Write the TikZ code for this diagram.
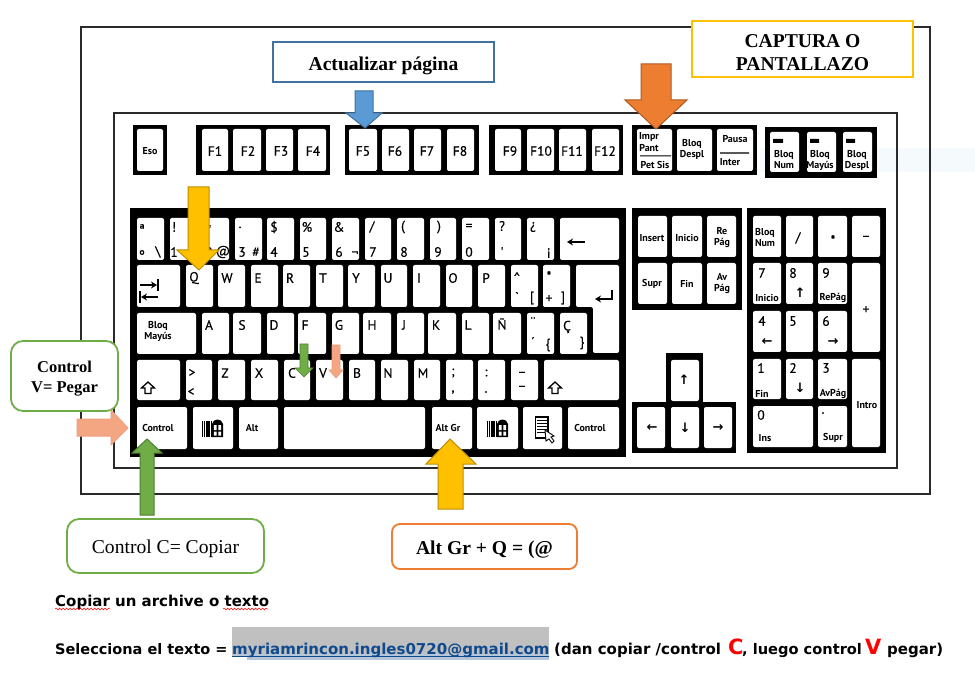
\documentclass[tikz,border=0pt]{standalone}
\usepackage{fontspec}
\setmainfont{Liberation Serif}
\newfontfamily\ptf{PT Sans}
\newfontfamily\ptk[FakeBold=0.4]{PT Sans}
\newfontfamily\djv{DejaVu Sans}
\usetikzlibrary{decorations.pathmorphing,arrows.meta}
\definecolor{frameC}{HTML}{2A2A2A}
\definecolor{bluef}{HTML}{5B9BD5}\definecolor{blued}{HTML}{41719C}
\definecolor{orgf}{HTML}{ED7D31}\definecolor{orgd}{HTML}{AE5A21}
\definecolor{goldf}{HTML}{FFC000}\definecolor{goldd}{HTML}{BC8C00}
\definecolor{grnf}{HTML}{70AD47}\definecolor{grnd}{HTML}{507E32}
\definecolor{peach}{HTML}{F4A582}\definecolor{peachd}{HTML}{F0A080}
\definecolor{linkC}{HTML}{0F4A8F}\definecolor{hlgray}{HTML}{C0C0C0}
\definecolor{hlblue}{HTML}{B4C6D8}\definecolor{wband}{HTML}{F5FAFD}
\newcounter{lb}
\tikzset{
  kl/.style={inner sep=0pt,align=center,font=\ptk\fontsize{13.5}{13.5}\selectfont},
  ks/.style={inner sep=0pt,align=center,font=\ptf\bfseries\fontsize{10}{11}\selectfont},
  ka/.style={inner sep=0pt,font=\djv\bfseries\fontsize{13}{13}\selectfont},
  frameL/.style={draw=frameC,line width=1.3pt},
  blockA/.style={line width=1pt,line join=miter},
  sq/.style={rounded corners=12pt,fill=white,line width=1.8pt},
  bt/.style={inner sep=0pt,anchor=base west,font=\djv\bfseries\fontsize{15}{15}\selectfont},
  keyarrow/.style={black,line width=1.6pt,-{Stealth[length=6pt,width=7pt]}},
  wavy/.style={draw=red,line width=.5pt,decorate,decoration={snake,amplitude=.9pt,segment length=3.5pt}}
}
\newcommand{\gp}[4]{\fill[black] (#1,#2) rectangle (#3,#4);}
\newcommand{\kk}[4]{\fill[white,rounded corners=2pt] (#1,#2) rectangle (#3,#4);}
\newcommand{\lab}[3]{\stepcounter{lb}\node[kl] (k\arabic{lb}) at (#1,#2) {#3};}
\newcommand{\sml}[3]{\stepcounter{lb}\node[ks] (k\arabic{lb}) at (#1,#2) {#3};}
\newcommand{\arw}[3]{\stepcounter{lb}\node[ka] (k\arabic{lb}) at (#1,#2) {#3};}
\newcommand{\winic}[2]{\begin{scope}[shift={(#1,#2)}]
  \fill[black] (0,9) -- (0,-4) .. controls (1,-10) and (10,-10) .. (11,-4) -- (11,9) -- cycle;
  \fill[white] (1.8,-3) rectangle (4.6,2) (6.4,-3) rectangle (9.2,2) (1.8,3.6) rectangle (4.6,7.6) (6.4,3.6) rectangle (9.2,7.6);
  \foreach \yy in {-6,-4,...,8}{\draw[black,line width=1.2pt,dash pattern=on 1.2pt off .6pt] (-10,\yy) -- (-.5,\yy);}
\end{scope}}
\newcommand{\shft}[2]{\draw[black,fill=white,line width=1.3pt,line join=miter] (#1,#2-6) -- (#1+6.5,#2) -- (#1+3,#2) -- (#1+3,#2+5.5) -- (#1-3,#2+5.5) -- (#1-3,#2) -- (#1-6.5,#2) -- cycle;}
\begin{document}
\begin{tikzpicture}[x=1pt,y=-1pt]
\useasboundingbox (0,0) rectangle (975,676);
\fill[white] (0,0) rectangle (975,676);
% frames
\fill[wband] (760,148) rectangle (975,172);
\draw[frameL] (81,27) rectangle (930,494);
\draw[frameL] (114,113) rectangle (897,468);
% black groups
\gp{133}{125}{167}{175}\gp{196}{125}{330}{175}\gp{345}{125}{479}{175}\gp{489}{125}{623}{175}\gp{632}{125}{757}{175}\gp{765}{127}{877}{178}
\gp{130}{208}{626}{457}\gp{632}{208}{742}{310}\gp{666}{353}{703}{410}\gp{632}{402}{736}{453}\gp{747}{208}{886}{453}
% function keys
\kk{137}{129}{163}{171}
\kk{202}{129}{228}{171}\kk{233}{129}{261}{171}\kk{266}{129}{293}{171}\kk{298}{129}{326}{171}
\kk{349}{129}{377}{171}\kk{382}{129}{409}{171}\kk{414}{129}{441}{171}\kk{447}{129}{474}{171}
\kk{495}{129}{521}{171}\kk{527}{129}{554}{171}\kk{559}{129}{586}{171}\kk{592}{129}{619}{171}
\kk{637}{129}{672}{171}\kk{677}{129}{712}{171}\kk{717}{129}{753}{171}
\kk{770}{132}{799}{172}\kk{807}{132}{836}{172}\kk{843}{132}{872}{172}
\fill[black] (773,139) rectangle (783,143) (810,139) rectangle (819,143) (846,139) rectangle (855,143);
\fill[black] (640,155.3) rectangle (671,156.5) (720,152.5) rectangle (749,153.7);
% row 1
\foreach \a/\b in {137/164,170/196,202/229,235/262,267/294,300/326,332/359,365/391,397/424,430/456,462/489,495/521,527/554,560/619}{\kk{\a}{218}{\b}{260}}
% row 2
\foreach \a/\b in {137/180,186/213,218/245,251/278,283/310,316/343,348/375,381/407,413/440,446/472,478/505,511/538,543/570}{\kk{\a}{265}{\b}{307}}
\fill[white,rounded corners=2pt] (576,265) -- (619,265) -- (619,353) -- (593,353) -- (593,307) -- (576,307) -- cycle;
% row 3
\foreach \a/\b in {137/196,202/229,233/261,267/294,298/326,332/359,363/391,397/424,428/456,462/489,493/521,527/554,560/587}{\kk{\a}{313}{\b}{354}}
% row 4
\foreach \a/\b in {137/180,186/212,218/245,251/278,284/310,316/343,349/375,381/408,414/440,446/473,478/505,511/538,544/619}{\kk{\a}{360}{\b}{400}}
% row 5
\foreach \a/\b in {137/187,193/233,239/278,284/425,432/472,477/518,523/562,568/619}{\kk{\a}{407}{\b}{449}}
% nav
\foreach \a/\b in {638/667,672/702,707/736}{\kk{\a}{216}{\b}{257}\kk{\a}{263}{\b}{304}}
\kk{671}{360}{699}{401}\kk{637}{407}{665}{448}\kk{671}{407}{699}{448}\kk{704}{407}{732}{448}
% numpad
\foreach \a/\b in {753/781,786/813,818/847,852/880}{\kk{\a}{216}{\b}{257}}
\foreach \a/\b in {753/781,786/813,818/847}{\kk{\a}{263}{\b}{304}\kk{\a}{311}{\b}{352}\kk{\a}{359}{\b}{399}}
\kk{852}{263}{880}{352}\kk{852}{359}{880}{447}\kk{753}{406}{813}{447}\kk{818}{406}{847}{447}
% function labels
\sml{150}{151}{Eso}
\lab{215}{151}{F1}\lab{248}{151}{F2}\lab{281}{151}{F3}\lab{313}{151}{F4}
\lab{363}{151}{F5}\lab{395}{151}{F6}\lab{427}{151}{F7}\lab{460}{151}{F8}
\lab{510}{151}{F9}\lab{541}{151}{F10}\lab{572}{151}{F11}\lab{605}{151}{F12}
\sml{649}{137}{Impr}\sml{649}{148}{Pant}\sml{655}{165}{Pet Sis}
\sml{692}{149}{Bloq\\Despl}\sml{735}{139}{Pausa}\sml{730}{162}{Inter}
\sml{784}{160}{Bloq\\Num}\sml{820}{160}{Bloq\\Mayús}\sml{857}{160}{Bloq\\Despl}
% row 1 labels
\lab{142}{229}{ª}\lab{142}{255}{º}\lab{158}{252}{\textbackslash}
\lab{174}{227}{!}\lab{174}{252}{1}\lab{209}{230}{"}\lab{209}{252}{2}\lab{223}{252}{@}
\lab{240}{229}{·}\lab{242}{252}{3}\lab{256}{252}{\#}
\lab{274}{227}{\$}\lab{274}{252}{4}\lab{307}{227}{\%}\lab{306}{252}{5}
\lab{339}{227}{\&}\lab{339}{252}{6}\lab{355}{254}{¬}
\lab{372}{227}{/}\lab{373}{252}{7}\lab{403}{227}{(}\lab{404}{252}{8}
\lab{439}{227}{)}\lab{438}{252}{9}\lab{469}{227}{=}\lab{469}{252}{0}
\lab{502}{226}{?}\lab{502}{252}{'}\lab{533}{227}{¿}\lab{549}{253}{¡}
\draw[keyarrow] (585,242) -- (567,242);
% row 2 labels
\draw[keyarrow] (140,285) -- (157,285);\draw[black,line width=1.5pt] (158,279) -- (158,291);
\draw[keyarrow] (158,297) -- (141,297);\draw[black,line width=1.5pt] (140,291) -- (140,303);
\lab{194}{278}{Q}\lab{227}{278}{W}\lab{258}{278}{E}\lab{290}{278}{R}\lab{323}{278}{T}
\lab{356}{278}{Y}\lab{388}{278}{U}\lab{419}{278}{I}\lab{453}{278}{O}\lab{486}{278}{P}
\lab{517}{277}{\textasciicircum}\lab{517}{297}{`}\lab{532}{298}{[}
\lab{549}{276}{*}\lab{549}{299}{+}\lab{563}{298}{]}
\coordinate (entA) at (612,290);\coordinate (entB) at (612,299);\coordinate (entC) at (595,299);
\draw[keyarrow] (entA) -- (entB) -- (entC);
% row 3 labels
\sml{158}{331}{Bloq\\Mayús}
\lab{209}{325}{A}\lab{242}{325}{S}\lab{274}{325}{D}\lab{305}{325}{F}\lab{339}{325}{G}
\lab{372}{325}{H}\lab{404}{325}{J}\lab{436}{325}{K}\lab{468}{325}{L}\lab{502}{324}{Ñ}
\lab{533}{322}{¨}\lab{533}{342}{´}\lab{548}{345}{\{}\lab{567}{327}{Ç}\lab{582}{343}{\}}
% row 4 labels
\shft{148}{388}
\lab{192}{373}{>}\lab{191}{392}{<}\lab{225}{373}{Z}\lab{259}{373}{X}\lab{292}{373}{C}\lab{323}{373}{V}
\lab{357}{373}{B}\lab{388}{373}{N}\lab{423}{373}{M}\lab{453}{373}{;}\lab{453}{392}{,}
\lab{486}{373}{:}\lab{486}{392}{.}\lab{522}{374}{–}\lab{522}{388}{–}
\shft{555}{388}
% row 5 labels
\sml{158}{428}{Control}\winic{212}{428}\sml{252}{428}{Alt}\sml{448}{428}{Alt Gr}\winic{497}{428}\sml{590}{428}{Control}
\draw[black,line width=1.2pt,fill=white] (535.5,417) rectangle (548,438);
\foreach \yy in {420,423,426,429,432}{\draw[black,line width=1pt] (537,\yy) -- (547,\yy);}
\draw[black,fill=white,line width=.9pt] (545,430) -- (554,436) -- (551,437) -- (554,441) -- (552,443) -- (549,439) -- (546,441) -- cycle;
% nav labels
\sml{652}{238}{Insert}\sml{687}{238}{Inicio}\sml{722}{238}{Re\\Pág}
\sml{652}{284}{Supr}\sml{687}{284}{Fin}\sml{722}{284}{Av\\Pág}
\arw{684}{380}{↑}\arw{652}{428}{←}\arw{685}{428}{↓}\arw{718}{428}{→}
% numpad labels
\sml{765}{238}{Bloq\\Num}\lab{798}{238}{/}\lab{833}{240}{*}\lab{866}{238}{–}
\lab{762}{273}{7}\sml{767}{298}{Inicio}\lab{793}{273}{8}\arw{800}{293}{↑}\lab{826}{273}{9}\sml{833}{298}{RePág}\lab{866}{310}{+}
\lab{762}{321}{4}\arw{767}{342}{←}\lab{793}{321}{5}\lab{826}{321}{6}\arw{833}{342}{→}
\lab{761}{368}{1}\sml{762}{394}{Fin}\lab{793}{368}{2}\arw{800}{388}{↓}\lab{826}{368}{3}\sml{833}{394}{AvPág}
\sml{867}{405}{Intro}\lab{761}{415}{0}\sml{765}{438}{Ins}\lab{823}{413}{.}\sml{833}{438}{Supr}
% callout boxes
\node[draw=blued,fill=white,line width=1.8pt,minimum width=221pt,minimum height=40pt,inner sep=0pt,font=\bfseries\fontsize{19.6}{23}\selectfont] (boxAct) at (383.5,62) {\rule{0pt}{22pt}Actualizar página};
\node[draw=goldf,fill=white,line width=1.8pt,minimum width=221pt,minimum height=56pt,inner sep=0pt,align=center,font=\bfseries\fontsize{19.6}{23}\selectfont] (boxCap) at (802.5,49) {\rule{0pt}{21pt}CAPTURA O\\PANTALLAZO};
\node[draw=grnf,sq,minimum width=107pt,minimum height=70pt,inner sep=0pt,align=center,font=\bfseries\fontsize{16.5}{20}\selectfont] (boxV) at (64.5,376) {\rule{0pt}{17pt}Control\\V= Pegar};
\node[draw=grnf,sq,minimum width=197pt,minimum height=54pt,inner sep=0pt,font=\fontsize{19.6}{23}\selectfont] (boxC) at (165.5,546) {\rule{0pt}{20pt}Control C= Copiar};
\node[draw=orgf,sq,rounded corners=8pt,minimum width=185pt,minimum height=45pt,inner sep=0pt,font=\bfseries\fontsize{19.6}{23}\selectfont] (boxAlt) at (484.5,546.5) {\rule{0pt}{21pt}Alt Gr + Q = (@};
% block arrows
\draw[blockA,fill=bluef,draw=blued] (355,91) -- (373,91) -- (373,113) -- (382,113) -- (365,128) -- (346,113) -- (355,113) -- cycle;
\draw[blockA,fill=orgf,draw=orgd] (641,64) -- (671,64) -- (671,100) -- (687,100) -- (656,129) -- (625,100) -- (641,100) -- cycle;
\draw[blockA,fill=goldf,draw=goldd] (188,187) -- (209,187) -- (209,250) -- (219,250) -- (199,270) -- (177,250) -- (188,250) -- cycle;
\draw[blockA,fill=grnf,draw=grnd,line width=.7pt] (300,344) -- (308,344) -- (308,368) -- (313,368) -- (304,377) -- (295,368) -- (300,368) -- cycle;
\draw[blockA,fill=peach,draw=peachd,line width=.7pt] (332,345) -- (340,345) -- (340,370) -- (343,370) -- (336,378) -- (329,370) -- (332,370) -- cycle;
\draw[blockA,fill=peach,draw=peachd] (77,419) -- (111,419) -- (111,410) -- (128,428) -- (111,445) -- (111,436) -- (77,436) -- cycle;
\draw[blockA,fill=grnf,draw=grnd] (140,515) -- (154,515) -- (154,453) -- (162,453) -- (147,439) -- (132,453) -- (140,453) -- cycle;
\draw[blockA,fill=goldf,draw=goldd] (438,509) -- (463,509) -- (463,464) -- (476,464) -- (450,439) -- (426,464) -- (438,464) -- cycle;
% bottom text
\fill[hlgray] (232,627) rectangle (549,654);
\fill[hlblue] (232,654) rectangle (549,660);
\fill[white] (232,657) rectangle (247,660);
\node[bt] (t1) at (55,606) {Copiar un archive o texto};
\draw[wavy] (55,609) -- (110,609);
\draw[wavy] (223,609) -- (268,609);
\node[bt,font=\djv\bfseries\fontsize{14.5}{15}\selectfont] (t2) at (55,654) {Selecciona el texto =};
\node[bt,text=linkC] (t3) at (232,654) {myriamrincon.ingles0720@gmail.com};
\fill[linkC] (232,656) rectangle (549,657.4);
\node[bt] (t4) at (554,654) {(dan copiar /control};
\node[bt,text=red,font=\djv\bfseries\fontsize{21}{21}\selectfont] (t5) at (728,654) {C};
\node[bt,font=\djv\bfseries\fontsize{14.6}{15}\selectfont] (t6) at (742,654) {, luego control};
\node[bt,text=red,font=\djv\bfseries\fontsize{21}{21}\selectfont] (t7) at (865,654) {V};
\node[bt] (t8) at (887,654) {pegar)};
\end{tikzpicture}
\end{document}
